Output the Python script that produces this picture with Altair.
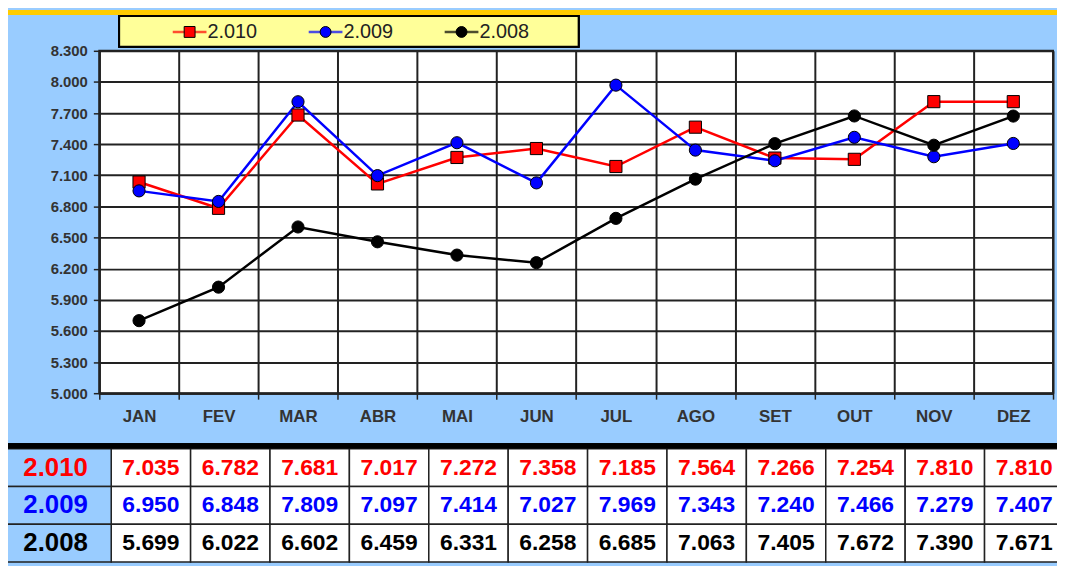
import altair as alt
import pandas as pd

months = ["JAN", "FEV", "MAR", "ABR", "MAI", "JUN", "JUL", "AGO", "SET", "OUT", "NOV", "DEZ"]
series = ["2.010", "2.009", "2.008"]
colors = ["#FF0000", "#0000FF", "#000000"]
shapes = ["square", "circle", "circle"]
v2010 = [7.035, 6.782, 7.681, 7.017, 7.272, 7.358, 7.185, 7.564, 7.266, 7.254, 7.810, 7.810]
v2009 = [6.950, 6.848, 7.809, 7.097, 7.414, 7.027, 7.969, 7.343, 7.240, 7.466, 7.279, 7.407]
v2008 = [5.699, 6.022, 6.602, 6.459, 6.331, 6.258, 6.685, 7.063, 7.405, 7.672, 7.390, 7.671]
y_ticks = [5.0, 5.3, 5.6, 5.9, 6.2, 6.5, 6.8, 7.1, 7.4, 7.7, 8.0, 8.3]

FONT = "Liberation Sans"
W, H = 961, 345

rows = []
for s, vals in zip(series, [v2010, v2009, v2008]):
    for m, v in zip(months, vals):
        rows.append({"series": s, "month": m, "value": v, "label": f"{v:.3f}"})
df = pd.DataFrame(rows)
sdf = pd.DataFrame({"series": series})

color = alt.Color("series:N", scale=alt.Scale(domain=series, range=colors), legend=None)
shape = alt.Shape("series:N", scale=alt.Scale(domain=series, range=shapes), legend=None)

x_main = alt.X("month:N", sort=months,
               scale=alt.Scale(type="band", domain=months, paddingInner=0, paddingOuter=0),
               axis=alt.Axis(title=None, tickBand="extent", labelAngle=0, labelFont=FONT,
                             labelFontSize=17, labelFontWeight="bold", labelColor="#333333",
                             labelPadding=10, tickSize=6, tickColor="#222222", tickWidth=1.5,
                             domainColor="#222222", domainWidth=2,
                             grid=True, gridColor="#222222", gridWidth=2))
y_main = alt.Y("value:Q",
               scale=alt.Scale(domain=[5.0, 8.3], nice=False, zero=False),
               axis=alt.Axis(title=None, values=y_ticks, format=".3f", labelFont=FONT,
                             labelFontSize=15, labelFontWeight="bold", labelColor="#333333",
                             labelPadding=6, tickSize=6, tickColor="#222222", tickWidth=1.5,
                             domainColor="#222222", domainWidth=2,
                             grid=True, gridColor="#222222", gridWidth=2))
y_main_noaxis = alt.Y("value:Q", scale=alt.Scale(domain=[5.0, 8.3], nice=False, zero=False), axis=None)
x_main_noaxis = alt.X("month:N", sort=months,
                      scale=alt.Scale(type="band", domain=months, paddingInner=0, paddingOuter=0),
                      axis=None)

lines = alt.Chart(df).mark_line(strokeWidth=2.5).encode(
    x=x_main, y=y_main, color=color, detail="series:N")
points = alt.Chart(df).mark_point(filled=True, size=150, stroke="#000000", strokeWidth=1, opacity=1).encode(
    x=x_main_noaxis, y=y_main_noaxis, color=color, shape=shape)

# legend (custom, built from the series list)
lx = alt.X("series:N", sort=series,
           scale=alt.Scale(type="point", domain=series, range=[91, 365], padding=0), axis=None)
leg_box = alt.Chart(sdf).mark_rect(fill="#FFFF99", stroke="#000000", strokeWidth=2).encode(
    x=alt.value(20), x2=alt.value(483), y=alt.value(-35), y2=alt.value(-4))
leg_line = alt.Chart(sdf).mark_tick(orient="horizontal", size=34, thickness=2.5).encode(
    x=lx, y=alt.value(-19), color=color)
leg_pt = alt.Chart(sdf).mark_point(filled=True, size=120, stroke="#000000", strokeWidth=1, opacity=1).encode(
    x=lx, y=alt.value(-19), color=color, shape=shape)
leg_txt = alt.Chart(sdf).mark_text(align="left", baseline="middle", dx=18, font=FONT,
                                   fontSize=20, color="#222222").encode(
    x=lx, y=alt.value(-19), text="series:N")

# top strip
strip = alt.Chart(sdf).mark_rect(fill="#FFCC00").encode(
    x=alt.value(-100), x2=alt.value(970), y=alt.value(-41), y2=alt.value(-36))

# data table
tx = alt.X("month:N", sort=months,
           scale=alt.Scale(type="band", domain=months, range=[12, 972], paddingInner=0, paddingOuter=0),
           axis=None)
ty = alt.Y("series:N", sort=series,
           scale=alt.Scale(type="band", domain=series, range=[401, 515], paddingInner=0, paddingOuter=0),
           axis=None)
cells = alt.Chart(df).mark_rect(fill="#FFFFFF", stroke="#222222", strokeWidth=1.5).encode(x=tx, y=ty)
cell_txt = alt.Chart(df).mark_text(font=FONT, fontSize=23, fontWeight="bold", baseline="middle").encode(
    x=alt.X("month:N", sort=months, bandPosition=0.5,
            scale=alt.Scale(type="band", domain=months, range=[12, 972], paddingInner=0, paddingOuter=0),
            axis=None),
    y=alt.Y("series:N", sort=series, bandPosition=0.5,
            scale=alt.Scale(type="band", domain=series, range=[401, 515], paddingInner=0, paddingOuter=0),
            axis=None),
    text="label:N", color=color)
head_cells = alt.Chart(sdf).mark_rect(fill="#99CCFF", stroke="#222222", strokeWidth=1.5).encode(
    x=alt.value(-101), x2=alt.value(12), y=ty)
head_txt = alt.Chart(sdf).mark_text(font=FONT, fontSize=26, fontWeight="bold", baseline="middle").encode(
    x=alt.value(-44),
    y=alt.Y("series:N", sort=series, bandPosition=0.5,
            scale=alt.Scale(type="band", domain=series, range=[401, 515], paddingInner=0, paddingOuter=0),
            axis=None),
    text="series:N", color=color)
thick = alt.Chart(sdf).mark_rule(color="#000000", strokeWidth=5).encode(
    x=alt.value(-100), x2=alt.value(970), y=alt.value(398))

chart = alt.layer(
    lines, points, strip, leg_box, leg_line, leg_pt, leg_txt,
    cells, head_cells, cell_txt, head_txt, thick
).resolve_scale(x="independent", y="independent").properties(
    width=W, height=H,
    autosize=alt.AutoSizeParams(type="none"),
    padding={"left": 92, "top": 41, "right": 4, "bottom": 172},
    background="#99CCFF",
).configure_view(fill="#FFFFFF", stroke="#222222", strokeWidth=2)

chart.save("out.html", embed_options={"renderer": "svg", "actions": False})
